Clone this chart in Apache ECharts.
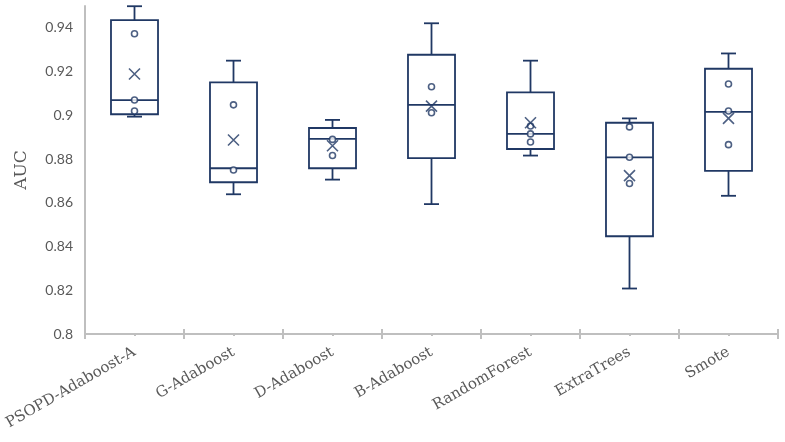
<!DOCTYPE html>
<html>
<head>
<meta charset="utf-8">
<script src="https://cdn.jsdelivr.net/npm/echarts@6/dist/echarts.min.js"></script>
<style>html,body{margin:0;padding:0;background:#fff}#c{width:785px;height:442px}</style>
</head>
<body>
<div id="c"></div>
<script>
const categories = ['PSOPD-Adaboost-A','G-Adaboost','D-Adaboost','B-Adaboost','RandomForest','ExtraTrees','Smote'];
const whiskerLow  = [0.8994, 0.8639, 0.8706, 0.8594, 0.8816, 0.8208, 0.8632];
const q1          = [0.9005, 0.8694, 0.8758, 0.8804, 0.8846, 0.8447, 0.8746];
const median      = [0.9070, 0.8758, 0.8892, 0.9048, 0.8915, 0.8808, 0.9016];
const q3          = [0.9435, 0.9151, 0.8942, 0.9277, 0.9105, 0.8966, 0.9213];
const whiskerHigh = [0.9499, 0.9250, 0.8979, 0.9421, 0.9250, 0.8986, 0.9283];
const means       = [0.9189, 0.8887, 0.8861, 0.9042, 0.8966, 0.8724, 0.8986];
const innerPoints = [
  [0.9020, 0.9070, 0.9373],
  [0.8750, 0.9048],
  [0.8816, 0.8890],
  [0.9012, 0.9131],
  [0.8878, 0.8915, 0.8951],
  [0.8688, 0.8808, 0.8947],
  [0.8866, 0.9020, 0.9143]
];
const yTicks = {min: 0.8, max: 0.95, interval: 0.02};

const COLOR = '#203864';
const AXIS = '#bfbfbf';
const GRAY = '#595959';

const boxData = categories.map((c, i) => [i, whiskerLow[i], q1[i], median[i], q3[i], whiskerHigh[i]]);
const pointData = [];
innerPoints.forEach((arr, i) => arr.forEach(v => pointData.push([i, v])));
const meanData = means.map((v, i) => [i, v]);

const chart = echarts.init(document.getElementById('c'), null, {renderer: 'canvas'});
const baseX = {type: 'category', data: categories, position: 'bottom', boundaryGap: true};
chart.setOption({
  animation: false,
  grid: {left: 85, right: 7, top: 6, bottom: 108, containLabel: false},
  xAxis: [
    Object.assign({}, baseX, {
      axisLine: {show: true, lineStyle: {color: AXIS, width: 2}},
      axisTick: {show: true, interval: 0, length: 5, inside: false, lineStyle: {color: AXIS, width: 2}},
      axisLabel: {interval: 0, rotate: 30, margin: 17, color: GRAY, fontFamily: 'DejaVu Serif', fontSize: 15},
      splitLine: {show: false}
    }),
    Object.assign({}, baseX, {
      axisLine: {show: false},
      axisTick: {show: true, interval: 0, length: 5, inside: true, lineStyle: {color: AXIS, width: 2}},
      axisLabel: {show: false},
      splitLine: {show: false}
    }),
    Object.assign({}, baseX, {
      axisLine: {show: false},
      axisTick: {show: true, interval: 0, alignWithLabel: true, length: 2, inside: false, lineStyle: {color: AXIS, width: 2}},
      axisLabel: {show: false},
      splitLine: {show: false}
    })
  ],
  yAxis: {
    type: 'value',
    min: yTicks.min, max: yTicks.max, interval: yTicks.interval,
    name: 'AUC', nameLocation: 'middle', nameGap: 55,
    nameTextStyle: {fontFamily: 'DejaVu Serif', fontSize: 17, color: GRAY},
    axisLine: {show: true, lineStyle: {color: AXIS, width: 2}},
    axisTick: {show: false},
    splitLine: {show: false},
    axisLabel: {showMaxLabel: false, margin: 12, color: GRAY, fontFamily: 'Lato', fontSize: 14}
  },
  series: [
    {
      type: 'custom',
      xAxisIndex: 0,
      data: boxData,
      encode: {x: 0, y: [1, 2, 3, 4, 5]},
      z: 2,
      renderItem: function (params, api) {
        const x = api.value(0);
        const pLow = api.coord([x, api.value(1)]);
        const pQ1 = api.coord([x, api.value(2)]);
        const pMed = api.coord([x, api.value(3)]);
        const pQ3 = api.coord([x, api.value(4)]);
        const pHigh = api.coord([x, api.value(5)]);
        const bw = api.size([1, 0])[0] * 0.475;
        const cx = pMed[0];
        const cap = 7.5;
        const st = {stroke: COLOR, lineWidth: 1.8, fill: null};
        return {
          type: 'group',
          children: [
            {type: 'rect', shape: {x: cx - bw / 2, y: pQ3[1], width: bw, height: pQ1[1] - pQ3[1]}, style: {stroke: COLOR, lineWidth: 1.8, fill: 'none'}},
            {type: 'line', shape: {x1: cx - bw / 2, y1: pMed[1], x2: cx + bw / 2, y2: pMed[1]}, style: st},
            {type: 'line', shape: {x1: cx, y1: pQ3[1], x2: cx, y2: pHigh[1]}, style: st},
            {type: 'line', shape: {x1: cx, y1: pQ1[1], x2: cx, y2: pLow[1]}, style: st},
            {type: 'line', shape: {x1: cx - cap, y1: pHigh[1], x2: cx + cap, y2: pHigh[1]}, style: st},
            {type: 'line', shape: {x1: cx - cap, y1: pLow[1], x2: cx + cap, y2: pLow[1]}, style: st}
          ]
        };
      }
    },
    {
      type: 'scatter',
      xAxisIndex: 0,
      data: pointData,
      symbol: 'circle',
      symbolSize: 6,
      z: 3,
      itemStyle: {color: '#ffffff', borderColor: COLOR, borderWidth: 1.6}
    },
    {
      type: 'scatter',
      xAxisIndex: 0,
      data: meanData,
      symbol: 'path://M0,0L10,10M10,0L0,10',
      symbolSize: 11,
      z: 4,
      itemStyle: {color: 'none', borderColor: COLOR, borderWidth: 1.6}
    }
  ]
});
</script>
</body>
</html>
